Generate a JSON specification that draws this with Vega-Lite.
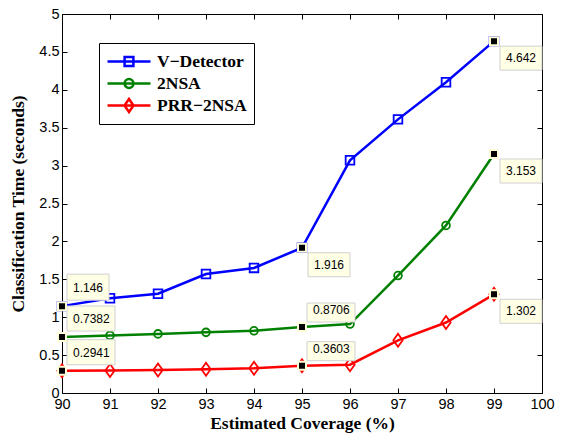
{
  "$schema": "https://vega.github.io/schema/vega-lite/v6.json",
  "width": 480,
  "height": 379,
  "autosize": {"type": "none"},
  "padding": {"left": 62, "top": 14, "right": 21, "bottom": 42},
  "background": "white",
  "config": {
    "view": {"stroke": "black", "strokeWidth": 1},
    "axis": {"grid": false, "domain": false, "tickColor": "black", "tickWidth": 1, "tickSize": -5, "labelFont": "Liberation Sans", "labelFontSize": 14.5, "labelColor": "black", "titleFont": "Liberation Serif", "titleFontWeight": "bold", "titleFontSize": 17.5, "titleColor": "black"}
  },
  "data": {"values": [
    {"series": "V−Detector", "x": 90, "y": 1.146},
    {"series": "V−Detector", "x": 91, "y": 1.25},
    {"series": "V−Detector", "x": 92, "y": 1.31},
    {"series": "V−Detector", "x": 93, "y": 1.57},
    {"series": "V−Detector", "x": 94, "y": 1.65},
    {"series": "V−Detector", "x": 95, "y": 1.916},
    {"series": "V−Detector", "x": 96, "y": 3.07},
    {"series": "V−Detector", "x": 97, "y": 3.61},
    {"series": "V−Detector", "x": 98, "y": 4.10},
    {"series": "V−Detector", "x": 99, "y": 4.642},
    {"series": "2NSA", "x": 90, "y": 0.7382},
    {"series": "2NSA", "x": 91, "y": 0.76},
    {"series": "2NSA", "x": 92, "y": 0.78},
    {"series": "2NSA", "x": 93, "y": 0.80},
    {"series": "2NSA", "x": 94, "y": 0.82},
    {"series": "2NSA", "x": 95, "y": 0.8706},
    {"series": "2NSA", "x": 96, "y": 0.91},
    {"series": "2NSA", "x": 97, "y": 1.55},
    {"series": "2NSA", "x": 98, "y": 2.21},
    {"series": "2NSA", "x": 99, "y": 3.153},
    {"series": "PRR−2NSA", "x": 90, "y": 0.2941},
    {"series": "PRR−2NSA", "x": 91, "y": 0.297},
    {"series": "PRR−2NSA", "x": 92, "y": 0.303},
    {"series": "PRR−2NSA", "x": 93, "y": 0.313},
    {"series": "PRR−2NSA", "x": 94, "y": 0.326},
    {"series": "PRR−2NSA", "x": 95, "y": 0.3603},
    {"series": "PRR−2NSA", "x": 96, "y": 0.373},
    {"series": "PRR−2NSA", "x": 97, "y": 0.695},
    {"series": "PRR−2NSA", "x": 98, "y": 0.93},
    {"series": "PRR−2NSA", "x": 99, "y": 1.302}
  ]},
  "resolve": {"axis": {"x": "independent", "y": "independent"}},
  "layer": [
    {
      "mark": {"type": "line", "strokeWidth": 2.5},
      "encoding": {
        "x": {"field": "x", "type": "quantitative", "scale": {"domain": [90, 100], "nice": false, "zero": false}, "axis": {"orient": "bottom", "values": [90,91,92,93,94,95,96,97,98,99,100], "title": "Estimated Coverage (%)", "labelPadding": 9, "titlePadding": 4, "labelFlush": false}},
        "y": {"field": "y", "type": "quantitative", "scale": {"domain": [0, 5], "nice": false, "zero": false}, "axis": {"orient": "left", "values": [0,0.5,1,1.5,2,2.5,3,3.5,4,4.5,5], "format": "~g", "title": "Classification Time (seconds)", "labelPadding": 8, "titlePadding": 11, "labelFlush": false}},
        "color": {"field": "series", "type": "nominal", "sort": ["V−Detector", "2NSA", "PRR−2NSA"],
          "scale": {"domain": ["V−Detector", "2NSA", "PRR−2NSA"], "range": ["#0000ff", "#008000", "#ff0000"]},
          "legend": {"orient": "none", "legendX": 37, "legendY": 29, "title": null, "padding": 7, "strokeColor": "black", "fillColor": "white", "symbolSize": 400, "symbolStrokeWidth": 2.5, "labelFont": "Liberation Serif", "labelFontWeight": "bold", "labelFontSize": 17.5, "labelColor": "black", "labelOffset": 28, "rowPadding": 1,
            "encode": {"symbols": {"update": {"fill": {"value": "transparent"}, "strokeWidth": {"value": 2.5}, "shape": {"signal": "datum.value === 'V−Detector' ? 'M-1,0 H3.3 M0.71,-0.44 H1.59 V0.44 H0.71 Z' : datum.value === '2NSA' ? 'M-1,0 H3.3 M1.59,0 A0.44,0.44 0 1,1 0.71,0 A0.44,0.44 0 1,1 1.59,0' : 'M-1,0 H3.3 M1.15,-0.65 L1.6,0 L1.15,0.65 L0.7,0 Z'"}}}}}
        }
      }
    },
    {
      "transform": [{"filter": "datum.series == 'V−Detector'"}],
      "mark": {"type": "point", "shape": "square", "size": 75, "filled": false, "stroke": "#0000ff", "strokeWidth": 1.8, "opacity": 1},
      "encoding": {
        "x": {"field": "x", "type": "quantitative", "axis": {"orient": "top", "values": [90,91,92,93,94,95,96,97,98,99,100], "labels": false, "title": null}},
        "y": {"field": "y", "type": "quantitative", "axis": {"orient": "right", "values": [0,0.5,1,1.5,2,2.5,3,3.5,4,4.5,5], "labels": false, "title": null}}
      }
    },
    {
      "transform": [{"filter": "datum.series == '2NSA'"}],
      "mark": {"type": "point", "shape": "circle", "size": 60, "filled": false, "stroke": "#008000", "strokeWidth": 1.8, "opacity": 1},
      "encoding": {"x": {"field": "x", "type": "quantitative", "axis": null}, "y": {"field": "y", "type": "quantitative", "axis": null}}
    },
    {
      "transform": [{"filter": "datum.series == 'PRR−2NSA'"}],
      "mark": {"type": "point", "shape": "M0,-1.3 L0.93,0 L0,1.3 L-0.93,0 Z", "size": 100, "filled": false, "stroke": "#ff0000", "strokeWidth": 1.8, "opacity": 1},
      "encoding": {"x": {"field": "x", "type": "quantitative", "axis": null}, "y": {"field": "y", "type": "quantitative", "axis": null}}
    },
    {
      "transform": [{"filter": "datum.x == 90 && datum.y > 1"}],
      "mark": {"type": "point", "shape": "M0.5,-3.2 H4.7 V-0.6 H0.5 Z", "size": 400, "filled": true, "fill": "#ffffe6", "stroke": "#d0d0d0", "strokeWidth": 1, "opacity": 1},
      "encoding": {"x": {"field": "x", "type": "quantitative", "axis": null}, "y": {"field": "y", "type": "quantitative", "axis": null}}
    },
    {
      "transform": [{"filter": "datum.x == 90 && datum.y < 1"}],
      "mark": {"type": "point", "shape": "M0.5,-3.1 H5.3 V-0.6 H0.5 Z", "size": 400, "filled": true, "fill": "#ffffe6", "stroke": "#d0d0d0", "strokeWidth": 1, "opacity": 1},
      "encoding": {"x": {"field": "x", "type": "quantitative", "axis": null}, "y": {"field": "y", "type": "quantitative", "axis": null}}
    },
    {
      "transform": [{"filter": "datum.x == 95 && datum.y < 1"}],
      "mark": {"type": "point", "shape": "M0.5,-2.4 H5.3 V-0.5 H0.5 Z", "size": 400, "filled": true, "fill": "#ffffe6", "stroke": "#d0d0d0", "strokeWidth": 1, "opacity": 1},
      "encoding": {"x": {"field": "x", "type": "quantitative", "axis": null}, "y": {"field": "y", "type": "quantitative", "axis": null}}
    },
    {
      "transform": [{"filter": "datum.x == 99 || (datum.x == 95 && datum.y > 1)"}],
      "mark": {"type": "point", "shape": "M0.6,0.5 H4.8 V2.9 H0.6 Z", "size": 400, "filled": true, "fill": "#ffffe6", "stroke": "#d0d0d0", "strokeWidth": 1, "opacity": 1},
      "encoding": {"x": {"field": "x", "type": "quantitative", "axis": null}, "y": {"field": "y", "type": "quantitative", "axis": null}}
    },
    {
      "transform": [{"filter": "datum.x == 90 || datum.x == 95 || datum.x == 99"}],
      "mark": {"type": "point", "shape": "square", "size": 64, "filled": true, "fill": "black", "stroke": "#ffffd8", "strokeWidth": 2, "opacity": 1},
      "encoding": {"x": {"field": "x", "type": "quantitative", "axis": null}, "y": {"field": "y", "type": "quantitative", "axis": null}}
    },
    {
      "transform": [{"filter": "datum.x == 90"}],
      "mark": {"type": "text", "align": "left", "baseline": "middle", "dx": 11, "dy": -18, "font": "Liberation Sans", "fontSize": 12, "color": "black"},
      "encoding": {"x": {"field": "x", "type": "quantitative", "axis": null}, "y": {"field": "y", "type": "quantitative", "axis": null}, "text": {"field": "y", "type": "quantitative", "format": ".4"}}
    },
    {
      "transform": [{"filter": "datum.x == 95 && datum.y < 1"}],
      "mark": {"type": "text", "align": "left", "baseline": "middle", "dx": 11, "dy": -17, "font": "Liberation Sans", "fontSize": 12, "color": "black"},
      "encoding": {"x": {"field": "x", "type": "quantitative", "axis": null}, "y": {"field": "y", "type": "quantitative", "axis": null}, "text": {"field": "y", "type": "quantitative", "format": ".4"}}
    },
    {
      "transform": [{"filter": "datum.x == 99 || (datum.x == 95 && datum.y > 1)"}],
      "mark": {"type": "text", "align": "left", "baseline": "middle", "dx": 12, "dy": 17, "font": "Liberation Sans", "fontSize": 12, "color": "black"},
      "encoding": {"x": {"field": "x", "type": "quantitative", "axis": null}, "y": {"field": "y", "type": "quantitative", "axis": null}, "text": {"field": "y", "type": "quantitative", "format": ".4"}}
    }
  ]
}
